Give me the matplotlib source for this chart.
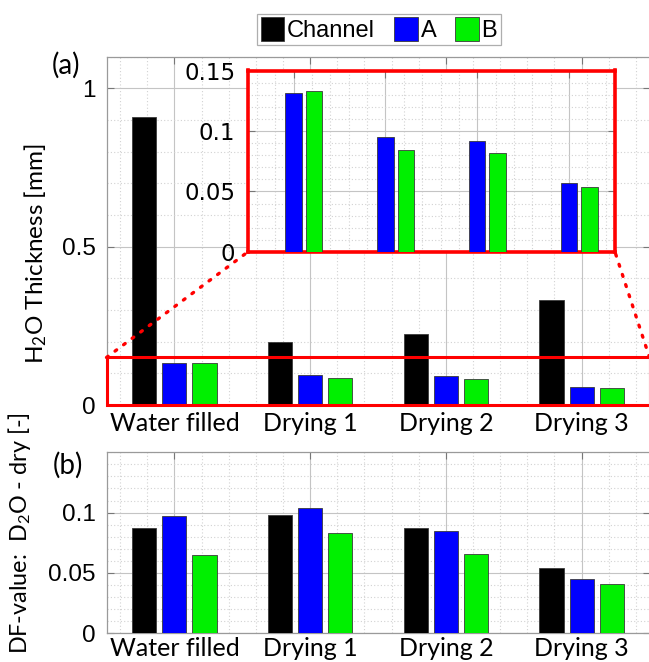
import matplotlib
matplotlib.use('Agg')
import matplotlib.pyplot as plt
from matplotlib.patches import Rectangle, Patch, ConnectionPatch
from matplotlib.ticker import MultipleLocator
import numpy as np

# ---------------- data ----------------
categories = ['Water filled', 'Drying 1', 'Drying 2', 'Drying 3']
series_names = ['Channel', 'A', 'B']
thick_channel = [0.908, 0.198, 0.223, 0.332]
thick_A = [0.131, 0.095, 0.092, 0.057]
thick_B = [0.133, 0.084, 0.082, 0.054]
df_channel = [0.087, 0.098, 0.087, 0.054]
df_A = [0.097, 0.104, 0.085, 0.045]
df_B = [0.065, 0.083, 0.066, 0.041]

colors = ['#000000', '#0000FF', '#00F000']

plt.rcParams['mathtext.fontset'] = 'custom'
plt.rcParams['mathtext.rm'] = 'Lato'
plt.rcParams['mathtext.it'] = 'Lato:italic'

W, H = 649, 662
fig = plt.figure(figsize=(W / 100, H / 100), dpi=100)

def fx(px):
    return px / W

def fy(py):
    return 1 - py / H

x = np.arange(1, len(categories) + 1)
off = 0.222
bw = 0.178

CATFONT = dict(family='Lato', size=18)


def style(ax, ymajor, ylabels, yminor, ylim, spine_color='#9a9a9a'):
    ax.set_xlim(0.5, 4.5)
    ax.set_ylim(*ylim)
    ax.set_xticks(x)
    ax.set_yticks(ymajor)
    ax.set_yticklabels(ylabels)
    ax.xaxis.set_minor_locator(MultipleLocator(0.2))
    ax.yaxis.set_minor_locator(MultipleLocator(yminor))
    ax.grid(which='major', color='#c4c4c4', lw=0.8, ls='-')
    ax.grid(which='minor', color='#d2d2d2', lw=0.8, ls=(0, (1, 2)))
    ax.set_axisbelow(True)
    ax.tick_params(which='both', direction='in', top=True, right=True,
                   color='#777777')
    ax.tick_params(which='major', length=5)
    ax.tick_params(which='minor', length=0)
    for s in ax.spines.values():
        s.set_color(spine_color)
        s.set_linewidth(0.9)


def bars(ax, vals_list, offsets, cols):
    for vals, o, c in zip(vals_list, offsets, cols):
        ax.bar(x + o, vals, width=bw, color=c, edgecolor='#3a3a3a', lw=0.6,
               zorder=3)

# ---------------- panel (a) ----------------
ax1 = fig.add_axes([fx(106.5), fy(405), fx(649.5 - 106.5), fy(56.5) - fy(405)])
style(ax1, [0, 0.5, 1], ['0', '0.5', '1'], 0.1, (0, 1.1))
bars(ax1, [thick_channel, thick_A, thick_B], [-off, 0, off], colors)
ax1.set_xticklabels(categories, **CATFONT)
ax1.tick_params(axis='x', pad=5)
ax1.tick_params(axis='y', pad=8)
for lab in ax1.get_yticklabels():
    lab.set_fontfamily('Liberation Sans')
    lab.set_fontsize(17.5)
ax1.add_patch(Rectangle((0.5, 0), 4.0, 0.15, fill=False, ec='red', lw=2.2,
                        clip_on=False, zorder=6))

# inset
ins = fig.add_axes([fx(247.7), fy(252), fx(615 - 247.7), fy(70.5) - fy(252)])
ins.set_facecolor('white')
style(ins, [0, 0.05, 0.1, 0.15], ['0', '0.05', '0.1', '0.15'], 0.01, (0, 0.15),
      spine_color='red')
for s in ins.spines.values():
    s.set_linewidth(2.6)
bars(ins, [thick_A, thick_B], [0, off], colors[1:])
ins.set_xticklabels([])
ins.tick_params(axis='y', pad=9)
for lab in ins.get_yticklabels():
    lab.set_fontfamily('DejaVu Sans')
    lab.set_fontsize(16.5)

for xa, xb in [((0.5, 0.15), (0, 0)), ((4.5, 0.15), (1, 0))]:
    cp = ConnectionPatch(xyA=xa, coordsA=ax1.transData, xyB=xb,
                         coordsB=ins.transAxes, color='red', lw=2.4,
                         ls=(0, (0.6, 2.6)), capstyle='round', zorder=7)
    fig.add_artist(cp)

# ---------------- panel (b) ----------------
ax2 = fig.add_axes([fx(106.5), fy(633.3), fx(649.5 - 106.5), fy(452.3) - fy(633.3)])
style(ax2, [0, 0.05, 0.1], ['0', '0.05', '0.1'], 0.01, (0, 0.15))
bars(ax2, [df_channel, df_A, df_B], [-off, 0, off], colors)
ax2.set_xticklabels(categories, **CATFONT)
ax2.tick_params(axis='x', pad=3)
ax2.tick_params(axis='y', pad=8)
for lab in ax2.get_yticklabels():
    lab.set_fontfamily('Liberation Sans')
    lab.set_fontsize(17.5)

# ---------------- labels ----------------
fig.text(fx(36), fy(254), r'H$_\mathrm{2}$O Thickness [mm]', rotation=90,
         ha='center', va='center', family='Lato', size=17.5)
fig.text(fx(20), fy(412), r'DF-value:  D$_\mathrm{2}$O - dry [-]', rotation=90,
         ha='center', va='top', family='Lato', size=16.8)
fig.text(fx(52), fy(65), '(a)', ha='left', va='center', family='Lato', size=20)
fig.text(fx(53), fy(465), '(b)', ha='left', va='center', family='Lato', size=20)

# ---------------- legend ----------------
handles = [Patch(facecolor=c, edgecolor='#3a3a3a', lw=0.6) for c in colors]
leg = fig.legend(handles, series_names, loc='center',
                 bbox_to_anchor=(fx(379), fy(29.5)), ncol=3,
                 prop=dict(family='Liberation Sans', size=17),
                 handlelength=1.0, handleheight=1.15, handletextpad=0.12,
                 columnspacing=0.8, borderpad=0.15, fancybox=False,
                 frameon=True)
leg.get_frame().set_edgecolor('#9a9a9a')
leg.get_frame().set_linewidth(0.9)

fig.savefig('out.png', dpi=100)
